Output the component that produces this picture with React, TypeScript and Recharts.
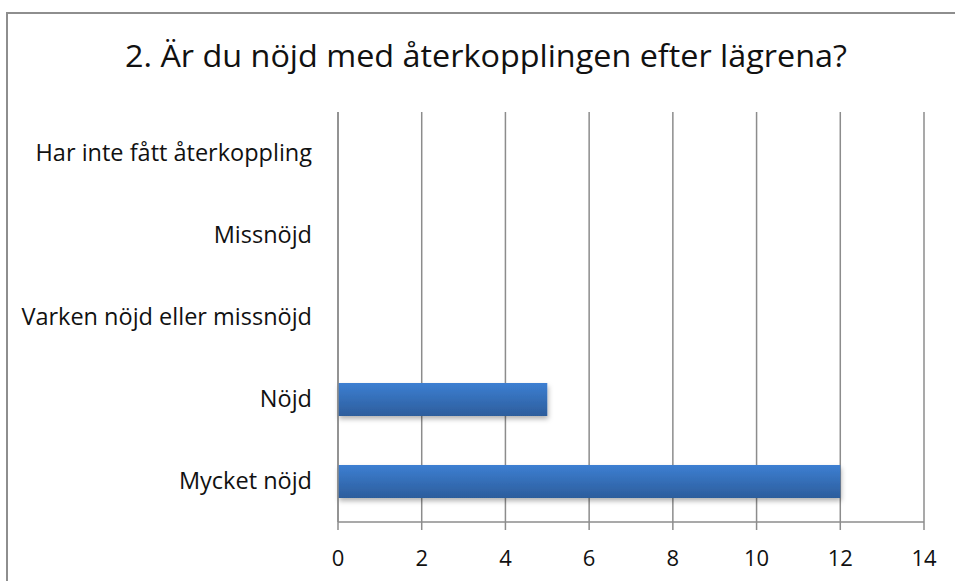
import React from 'react';
import { BarChart, Bar, XAxis, YAxis, CartesianGrid } from 'recharts';

const categories = [
  'Har inte fått återkoppling',
  'Missnöjd',
  'Varken nöjd eller missnöjd',
  'Nöjd',
  'Mycket nöjd',
];
const counts = [0, 0, 0, 5, 12];
const xTicks = [0, 2, 4, 6, 8, 10, 12, 14];
const boundaryTicks = [0, 1, 2, 3, 4, 5];
const title = '2. Är du nöjd med återkopplingen efter lägrena?';

const data = categories.map((name, i) => ({ name, value: counts[i] }));

const FONT = '"Open Sans", "DejaVu Sans", sans-serif';
const GRID = '#8c8c8c';

export default function App() {
  return (
    <div style={{ position: 'absolute', left: 0, top: 0, width: 955, height: 581, overflow: 'hidden', background: '#fff' }}>
      <svg style={{ position: 'absolute', left: 0, top: 0 }} width={955} height={581}>
        <polyline points="7,581 7,13 955,13" fill="none" stroke="#8e8e8e" strokeWidth={2} />
        <text
          x={486}
          y={67}
          textAnchor="middle"
          fontFamily={FONT}
          fontSize={30.5}
          fill="#111"
          textLength={722}
          lengthAdjust="spacingAndGlyphs"
        >
          {title}
        </text>
      </svg>
      <div style={{ position: 'absolute', left: 0, top: 0 }}>
        <BarChart
          width={955}
          height={581}
          data={data}
          layout="vertical"
          margin={{ top: 112, right: 31, bottom: 0, left: 0 }}
          barSize={33}
        >
          <defs>
            <linearGradient id="barGrad" x1="0" y1="0" x2="0" y2="1">
              <stop offset="0%" stopColor="#3d7fd2" />
              <stop offset="100%" stopColor="#2c5d9c" />
            </linearGradient>
            <filter id="barShadow" x="-5%" y="-20%" width="110%" height="160%">
              <feDropShadow dx="1" dy="3" stdDeviation="2.5" floodColor="#000" floodOpacity="0.3" />
            </filter>
          </defs>
          <CartesianGrid horizontal={false} vertical stroke={GRID} strokeWidth={1.5} />
          <XAxis
            type="number"
            domain={[0, 14]}
            ticks={xTicks}
            interval={0}
            height={59}
            stroke={GRID}
            strokeWidth={1.5}
            tickSize={8}
            tickMargin={20}
            tick={{ fill: '#111', fontSize: 22, fontFamily: FONT }}
          />
          <YAxis
            yAxisId="bounds"
            type="number"
            domain={[0, 5]}
            ticks={boundaryTicks}
            interval={0}
            width={0}
            stroke={GRID}
            strokeWidth={1.5}
            tickSize={8}
            tickFormatter={() => ''}
          />
          <YAxis
            yAxisId="cat"
            type="category"
            dataKey="name"
            width={338}
            stroke={GRID}
            strokeWidth={1.5}
            tickLine={false}
            tickSize={0}
            tickMargin={26}
            interval={0}
            tick={{ fill: '#111', fontSize: 23.5, fontFamily: FONT }}
          />
          <Bar
            yAxisId="cat"
            dataKey="value"
            fill="url(#barGrad)"
            filter="url(#barShadow)"
            isAnimationActive={false}
          />
        </BarChart>
      </div>
    </div>
  );
}
